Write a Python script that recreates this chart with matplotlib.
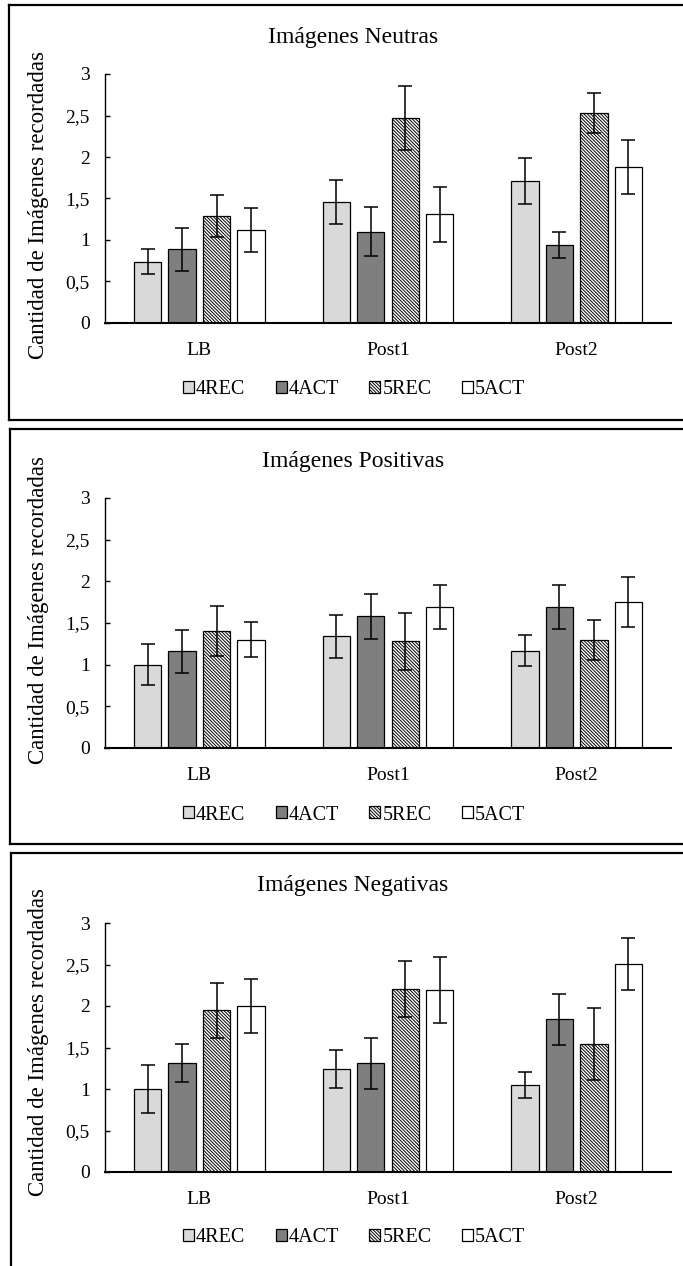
import numpy as np
import matplotlib
matplotlib.use('Agg')
import matplotlib.pyplot as plt
from matplotlib.patches import Patch
from matplotlib.lines import Line2D

plt.rcParams['font.family'] = ['Liberation Serif', 'DejaVu Serif']
plt.rcParams['hatch.linewidth'] = 0.7

# Data
categories = ['LB', 'Post1', 'Post2']
groups = ['4REC', '4ACT', '5REC', '5ACT']
ytick_labels = ['0', '0,5', '1', '1,5', '2', '2,5', '3']
titles = ['Imágenes Neutras', 'Imágenes Positivas', 'Imágenes Negativas']

# rows = groups (4REC, 4ACT, 5REC, 5ACT), cols = categories
neutras_mean = [[0.74, 1.46, 1.71], [0.89, 1.10, 0.94], [1.29, 2.47, 2.53], [1.12, 1.31, 1.88]]
neutras_err = [[0.155, 0.265, 0.28], [0.26, 0.295, 0.16], [0.25, 0.38, 0.245], [0.26, 0.33, 0.33]]

positivas_mean = [[1.00, 1.34, 1.17], [1.16, 1.58, 1.69], [1.41, 1.28, 1.30], [1.30, 1.69, 1.75]]
positivas_err = [[0.245, 0.26, 0.19], [0.255, 0.27, 0.265], [0.30, 0.345, 0.24], [0.21, 0.265, 0.30]]

negativas_mean = [[1.00, 1.245, 1.045], [1.31, 1.31, 1.84], [1.95, 2.205, 1.54], [2.00, 2.19, 2.505]]
negativas_err = [[0.287, 0.23, 0.157], [0.23, 0.31, 0.305], [0.33, 0.335, 0.43], [0.32, 0.40, 0.31]]

means = [neutras_mean, positivas_mean, negativas_mean]
errs = [neutras_err, positivas_err, negativas_err]

# Styles
facecolors = ['#d9d9d9', '#7f7f7f', 'white', 'white']
hatches = [None, None, '\\' * 10, None]

W, H = 683, 1266
fig = plt.figure(figsize=(W / 100, H / 100), dpi=100)


def fx(px):
    return px / W


def fy(py):
    return 1 - py / H


# pixel layout of each panel
axes_y = [(74, 323), (498, 748), (923, 1172)]
title_y = [37, 462, 885]
ylabel_y = [205, 610, 1042]
legend_y = [390, 815, 1238]

x = np.arange(len(categories))
step = 0.183
width = 0.145

for i in range(3):
    top, bot = axes_y[i]
    ax = fig.add_axes([fx(105), fy(bot), fx(671) - fx(105), fy(top) - fy(bot)])
    for g in range(4):
        ax.bar(x + (g - 1.5) * step, means[i][g], width, color=facecolors[g],
               edgecolor='black', linewidth=0.9, hatch=hatches[g], zorder=2)
        ax.errorbar(x + (g - 1.5) * step, means[i][g], yerr=errs[i][g], fmt='none',
                    ecolor='black', elinewidth=1.1, capsize=5, capthick=1.1, zorder=3)
    ax.set_xlim(-0.5, 2.5)
    ax.set_ylim(0, 3)
    ax.set_yticks(np.arange(0, 3.01, 0.5))
    ax.set_yticklabels(ytick_labels)
    ax.set_xticks(x)
    ax.set_xticklabels(categories)
    ax.tick_params(axis='y', direction='in', length=3.6, width=1.0, pad=11, labelsize=14)
    ax.tick_params(axis='x', length=0, pad=14, labelsize=14)
    ax.spines['top'].set_visible(False)
    ax.spines['right'].set_visible(False)
    ax.spines['left'].set_linewidth(1.0)
    ax.spines['bottom'].set_linewidth(1.5)

    fig.text(fx(353), fy(title_y[i]), titles[i], ha='center', va='center', fontsize=17)
    fig.text(fx(39), fy(ylabel_y[i]), 'Cantidad de Imágenes recordadas', rotation=90,
             ha='center', va='center', fontsize=16.5)

    handles = [Patch(facecolor=facecolors[g], edgecolor='black', linewidth=0.9,
                     hatch=hatches[g], label=groups[g]) for g in range(4)]
    fig.legend(handles=handles, loc='center', bbox_to_anchor=(fx(354), fy(legend_y[i])),
               ncol=4, frameon=False, fontsize=14.5, handlelength=0.55, handleheight=0.55,
               handletextpad=0.1, columnspacing=1.5)

# panel frames
lw = 1.6
frames = [(5, 420, 9), (429, 844, 10), (853, None, 11)]
for top, bot, left in frames:
    fig.add_artist(Line2D([fx(left), 1], [fy(top), fy(top)], color='black', lw=lw))
    yb = fy(bot) if bot is not None else 0
    fig.add_artist(Line2D([fx(left), fx(left)], [fy(top), yb], color='black', lw=lw))
    if bot is not None:
        fig.add_artist(Line2D([fx(left), 1], [fy(bot), fy(bot)], color='black', lw=lw))

fig.savefig('out.png', dpi=100)
